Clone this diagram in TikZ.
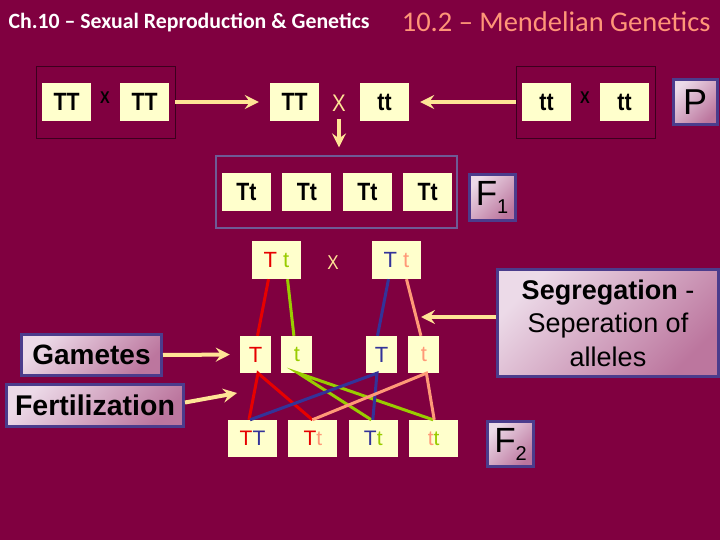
\documentclass[tikz,border=0pt]{standalone}
\usepackage{fontspec}
\setmainfont{Liberation Sans}
\newfontfamily\slidetitle{Carlito}
\newfontfamily\cardfont{Liberation Sans}[FakeStretch=0.85]
\usetikzlibrary{arrows.meta,positioning}

\definecolor{slidebg}{RGB}{128,0,64}
\definecolor{cardfill}{RGB}{255,255,204}
\definecolor{arrowgold}{RGB}{255,228,150}
\definecolor{allelered}{RGB}{230,0,0}
\definecolor{allelegreen}{RGB}{153,204,0}
\definecolor{alleleblue}{RGB}{51,51,153}
\definecolor{allelesalmon}{RGB}{255,153,119}
\definecolor{titlesalmon}{RGB}{255,150,120}
\definecolor{labelborder}{RGB}{75,60,140}
\definecolor{labellight}{RGB}{236,218,232}
\definecolor{labeldark}{RGB}{188,118,158}
\definecolor{framedark}{RGB}{60,0,30}
\definecolor{framepurple}{RGB}{110,90,150}

\begin{document}
\begin{tikzpicture}[x=1pt, y=-1pt,
    card/.style={fill=cardfill, inner sep=0pt, minimum width=49pt, minimum height=38pt, font=\cardfont\fontsize{25}{25}\selectfont\bfseries},
    pair/.style={card, font=\fontsize{22}{22}\selectfont},
    gamete/.style={card, minimum width=31pt, minimum height=37pt, font=\fontsize{22}{22}\selectfont},
    cross/.style={draw=framedark, line width=0.8pt, minimum width=139pt, minimum height=72pt},
    tag/.style={draw=labelborder, line width=3pt, top color=labellight, bottom color=labeldark, shading angle=45, inner sep=0pt, align=center},
    arrow/.style={draw=arrowgold, line width=4pt, -{Stealth[length=14pt, width=14pt, inset=5pt, fill=arrowgold]}},
    link/.style={line width=3pt}
  ]
    \path[use as bounding box, fill=slidebg] (0,0) rectangle (720,540);

    % headings
    \node[anchor=west, text=white, font=\slidetitle\bfseries\fontsize{21.8}{22}\selectfont] (chapter) at (5,23) {Ch.10 – Sexual Reproduction \& Genetics};
    \node[anchor=east, text=titlesalmon, font=\slidetitle\fontsize{28.5}{29}\selectfont] (section) at (714,22) {10.2 – Mendelian Genetics};

    % P generation
    \node[cross] (leftcross) at (105.5,102) {};
    \node[card] (pTT1) at (66.5,102) {TT};
    \node[font=\cardfont\fontsize{17}{17}\selectfont\bfseries] (xleft) at (105,98) {X};
    \node[card] (pTT2) at (144.5,102) {TT};
    \node[cross] (rightcross) at (585.5,102) {};
    \node[card] (ptt1) at (546.5,102) {tt};
    \node[font=\cardfont\fontsize{17}{17}\selectfont\bfseries] (xright) at (585,98) {X};
    \node[card] (ptt2) at (624.5,102) {tt};
    \node[card] (mTT) at (294.5,102) {TT};
    \node[text=arrowgold, font=\cardfont\fontsize{24}{24}\selectfont] (xmid) at (339,103) {X};
    \node[card] (mtt) at (384.5,102) {tt};
    \node[tag, minimum width=44pt, minimum height=45pt, font=\fontsize{36}{36}\selectfont] (plab) at (695,102) {P};

    % F1 generation
    \node[draw=framepurple, line width=1.2pt, minimum width=241pt, minimum height=72pt] (f1box) at (336.5,192) {};
    \node[card] (f1a) at (246.5,192) {Tt};
    \node[card, right=11pt of f1a] (f1b) {Tt};
    \node[card, right=11pt of f1b] (f1c) {Tt};
    \node[card, right=11pt of f1c] (f1d) {Tt};
    \node[tag, minimum width=46pt, minimum height=46pt, font=\fontsize{35}{35}\selectfont] (f1lab) at (492,197.5) {F\raisebox{-8pt}{\fontsize{20}{20}\selectfont 1}};

    \draw[arrow, shorten >=11pt] (leftcross.east) -- (mTT.west);
    \draw[arrow, shorten >=11pt] (rightcross.west) -- (mtt.east);
    \draw[arrow, shorten <=4pt, shorten >=8pt] (xmid.south) -- (xmid.south |- f1box.north);

    % F1 cross and gametes
    \node[pair] (ma) at (276.5,260) {\textcolor{allelered}{T} \textcolor{allelegreen}{t}};
    \node[text=arrowgold, font=\cardfont\fontsize{20}{20}\selectfont] (xf1) at (333,263) {X};
    \node[pair] (mb) at (396.5,260) {\textcolor{alleleblue}{T} \textcolor{allelesalmon}{t}};
    \node[gamete, text=allelered] (gT1) at (255.5,354.5) {T};
    \node[gamete, text=allelegreen, right=10pt of gT1] (gt1) {t};
    \node[gamete, text=alleleblue] (gT2) at (381.5,354.5) {T};
    \node[gamete, text=allelesalmon, right=11pt of gT2] (gt2) {t};

    % F2 generation
    \node[pair, minimum height=37pt, font=\fontsize{21}{21}\selectfont] (f2a) at (252.5,438.5) {\textcolor{allelered}{T}\textcolor{alleleblue}{T}};
    \node[pair, minimum height=37pt, font=\fontsize{21}{21}\selectfont, right=11pt of f2a] (f2b) {\textcolor{allelered}{T}\textcolor{allelesalmon}{t}};
    \node[pair, minimum height=37pt, font=\fontsize{21}{21}\selectfont, right=11pt of f2b] (f2c) {\textcolor{alleleblue}{T}\textcolor{allelegreen}{t}};
    \node[pair, minimum height=37pt, font=\fontsize{21}{21}\selectfont, right=11pt of f2c] (f2d) {\textcolor{allelesalmon}{t}\textcolor{allelegreen}{t}};
    \node[tag, minimum width=46pt, minimum height=45pt, font=\fontsize{35}{35}\selectfont] (f2lab) at (510.5,444) {F\raisebox{-8pt}{\fontsize{20}{20}\selectfont 2}};

    % segregation lines
    \draw[link, allelered] ([xshift=-8pt]ma.south) -- ([xshift=2pt]gT1.north);
    \draw[link, allelegreen] ([xshift=11pt]ma.south) -- ([xshift=-3pt]gt1.north);
    \draw[link, alleleblue] ([xshift=-8pt]mb.south) -- ([xshift=-4pt]gT2.north);
    \draw[link, allelesalmon] ([xshift=10pt]mb.south) -- ([xshift=-3pt]gt2.north);

    % fertilization lines
    \draw[link, allelered] ([xshift=-3.5pt]f2a.north) -- ([xshift=2.5pt]gT1.south) -- ([xshift=-0.5pt]f2b.north);
    \draw[link, allelegreen] ([xshift=-2pt]f2c.north) -- ([xshift=1.5pt]gt1.south) -- ([xshift=-0.5pt]f2d.north);
    \draw[link, alleleblue] ([xshift=-2.5pt]f2a.north) -- ([xshift=-4.5pt]gT2.south) -- ([xshift=-0.5pt]f2c.north);
    \draw[link, allelesalmon] ([xshift=-0.5pt]f2b.north) -- ([xshift=2.5pt]gt2.south) -- ([xshift=0.5pt]f2d.north);

    % side labels
    \node[tag, minimum width=140pt, minimum height=41pt, font=\fontsize{28}{28}\selectfont\bfseries] (gamlab) at (91.5,355) {Gametes};
    \node[tag, minimum width=177pt, minimum height=42pt, font=\fontsize{28.5}{28.5}\selectfont\bfseries] (fertlab) at (95,405.5) {Fertilization};
    \node[tag, minimum width=221pt, minimum height=107pt, font=\fontsize{27}{33.5}\selectfont] (seglab) at (608,323) {\textbf{Segregation} -\\Seperation of\\alleles};
    \coordinate (fertend) at (237,393);
    \coordinate (segend) at (421,317);

    \draw[arrow, shorten >=10pt] (gamlab.east) -- (gT1.west);
    \draw[arrow] ([yshift=3pt]fertlab.east) -- (fertend);
    \draw[arrow] ([yshift=6pt]seglab.west) -- (segend);
  \end{tikzpicture}
\end{document}
